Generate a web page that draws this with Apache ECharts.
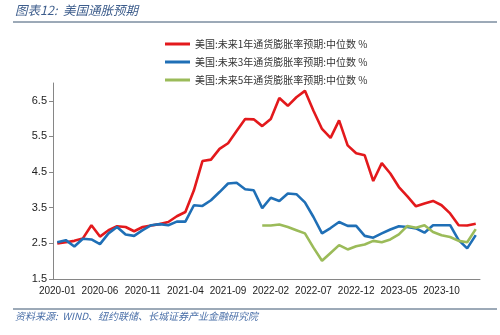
<!DOCTYPE html>
<html>
<head>
<meta charset="utf-8">
<script src="https://cdn.jsdelivr.net/npm/echarts@6/dist/echarts.min.js"></script>
<style>
html,body{margin:0;padding:0;background:#fff;}
#c{width:500px;height:335px;}
</style>
</head>
<body>
<div id="c"></div>
<script>
var categories = ['2020-01','2020-02','2020-03','2020-04','2020-05','2020-06','2020-07','2020-08','2020-09','2020-10','2020-11','2020-12',
'2021-01','2021-02','2021-03','2021-04','2021-05','2021-06','2021-07','2021-08','2021-09','2021-10','2021-11','2021-12',
'2022-01','2022-02','2022-03','2022-04','2022-05','2022-06','2022-07','2022-08','2022-09','2022-10','2022-11','2022-12',
'2023-01','2023-02','2023-03','2023-04','2023-05','2023-06','2023-07','2023-08','2023-09','2023-10','2023-11','2023-12',
'2024-01','2024-02'];
var seriesNames = ['美国:未来1年通货膨胀率预期:中位数 %','美国:未来3年通货膨胀率预期:中位数 %','美国:未来5年通货膨胀率预期:中位数 %'];
var oneYear = [2.50,2.53,2.57,2.64,3.01,2.69,2.87,2.98,2.96,2.84,2.96,3.00,
3.04,3.10,3.26,3.38,3.99,4.81,4.85,5.15,5.31,5.65,5.99,5.98,
5.79,5.99,6.58,6.36,6.60,6.78,6.22,5.71,5.46,5.95,5.25,5.03,
4.97,4.25,4.75,4.46,4.08,3.82,3.54,3.62,3.69,3.57,3.34,3.01,
3.00,3.05];
var threeYear = [2.53,2.59,2.41,2.63,2.61,2.48,2.78,2.96,2.75,2.71,2.87,3.01,
3.04,3.01,3.11,3.11,3.57,3.55,3.71,3.94,4.18,4.20,4.02,3.99,
3.49,3.78,3.69,3.90,3.88,3.65,3.24,2.78,2.93,3.10,2.99,2.99,
2.71,2.66,2.78,2.89,2.98,2.96,2.92,2.80,3.01,3.01,3.01,2.59,
2.36,2.73];
var fiveYear = [null,null,null,null,null,null,null,null,null,null,null,null,
null,null,null,null,null,null,null,null,null,null,null,null,
3.00,3.00,3.03,2.96,2.87,2.78,2.38,2.01,2.23,2.45,2.33,2.42,
2.47,2.57,2.53,2.61,2.75,2.99,2.94,3.01,2.82,2.73,2.68,2.57,
2.53,2.90];
var yTicks = [1.5,2.5,3.5,4.5,5.5,6.5];
var colors = ['#e3191c','#1f6fb6','#9bbb59'];

var chart = echarts.init(document.getElementById('c'));
var font = '"Liberation Sans", "Noto Sans CJK SC", sans-serif';
chart.setOption({
  animation:false,
  textStyle:{fontFamily:font},
  color:colors,
  graphic:[
    {type:'text',left:15,top:4,style:{text:'图表12:  美国通胀预期',fill:'#3d5d8c',font:'italic 12.5px "Noto Sans CJK SC", sans-serif'}},
    {type:'line',shape:{x1:13,y1:22,x2:497,y2:22},style:{stroke:'#3a5570',lineWidth:1}},
    {type:'line',shape:{x1:13,y1:309,x2:497,y2:309},style:{stroke:'#3a5570',lineWidth:1}},
    {type:'text',left:15,top:311,style:{text:'资料来源:  WIND、纽约联储、长城证券产业金融研究院',fill:'#4a6fa8',font:'italic 10px "Noto Sans CJK SC", sans-serif'}}
  ],
  legend:{
    orient:'vertical',
    left:160,
    top:32,
    itemGap:4,
    itemWidth:25,
    itemHeight:3,
    icon:'rect',
    textStyle:{fontSize:10,color:'#333',fontFamily:'"Noto Sans CJK SC", sans-serif',lineHeight:14},
    data:seriesNames
  },
  grid:{left:53,right:20,top:83,bottom:56,containLabel:false},
  xAxis:{
    type:'category',
    data:categories,
    boundaryGap:true,
    axisLine:{lineStyle:{color:'#868686',width:1}},
    axisTick:{interval:4,length:4,lineStyle:{color:'#868686'}},
    axisLabel:{interval:4,fontSize:10,color:'#222',margin:7}
  },
  yAxis:{
    type:'value',
    min:1.5,
    max:7,
    splitLine:{show:false},
    axisLine:{show:true,lineStyle:{color:'#868686',width:1}},
    axisTick:{show:true,length:4,lineStyle:{color:'#868686'},customValues:yTicks},
    axisLabel:{fontSize:11,color:'#222',margin:6,customValues:yTicks,formatter:function(v){return v.toFixed(1);}}
  },
  series:[
    {name:seriesNames[0],type:'line',data:oneYear,symbol:'none',lineStyle:{width:2.6,color:colors[0]}},
    {name:seriesNames[1],type:'line',data:threeYear,symbol:'none',lineStyle:{width:2.6,color:colors[1]}},
    {name:seriesNames[2],type:'line',data:fiveYear,symbol:'none',lineStyle:{width:2.6,color:colors[2]}}
  ]
});
</script>
</body>
</html>
